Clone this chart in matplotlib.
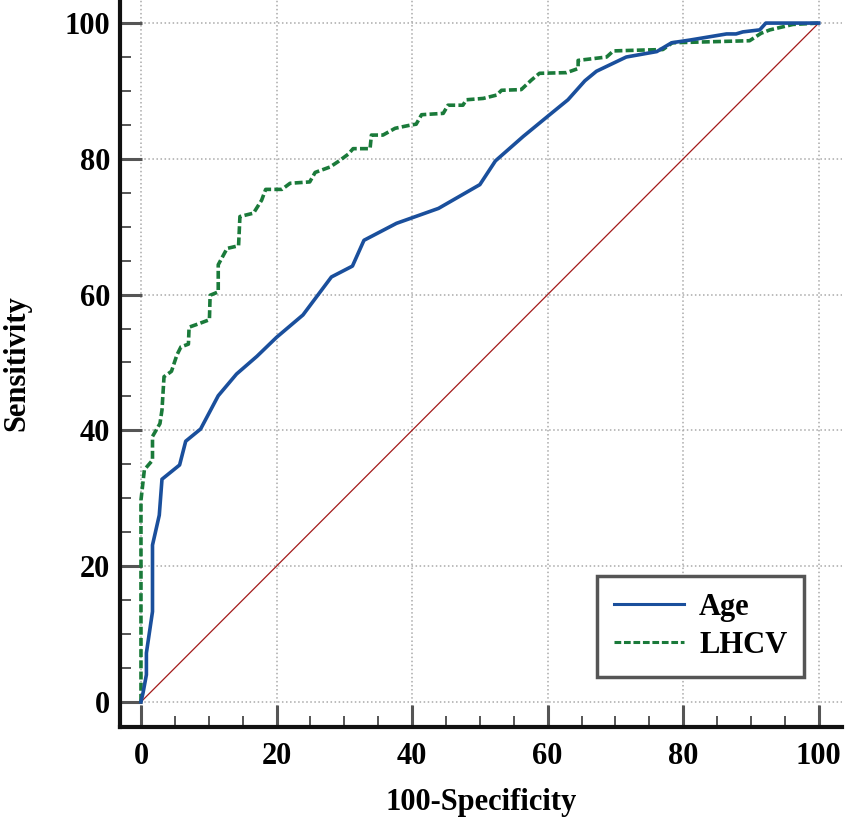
import matplotlib
matplotlib.use("Agg")
from matplotlib import pyplot as plt
import numpy as np

plt.rcParams['font.family'] = ['Liberation Serif', 'DejaVu Serif']
plt.rcParams['font.weight'] = 'bold'

# ROC curve points (100-Specificity, Sensitivity)
age_x = [0, 0.3, 0.8, 0.8, 1.7, 1.7, 2.7, 3.1, 5.7, 6.6, 8.8, 11.4, 14.1, 17.1, 20.0,
         23.9, 28.1, 31.2, 32.9, 37.7, 43.9, 50.0, 52.3, 56.4, 60.3, 63.0, 65.5, 67.2,
         71.6, 76.1, 78.3, 81.0, 86.4, 87.8, 88.8, 91.3, 92.2, 100]
age_y = [0, 1.3, 4.0, 7.2, 13.3, 23.1, 27.5, 32.8, 34.9, 38.4, 40.2, 45.1, 48.3, 50.9, 53.7,
         57.0, 62.6, 64.2, 68.0, 70.5, 72.7, 76.2, 79.7, 83.3, 86.5, 88.7, 91.5, 92.9,
         95.0, 95.8, 97.1, 97.5, 98.4, 98.4, 98.7, 99.0, 100, 100]

lhcv_x = [0, 0, 0.5, 1.7, 1.7, 2.8, 3.1, 3.4, 4.5, 5.3, 5.9, 7.0, 7.1, 8.5, 10.1, 10.2,
          11.4, 11.4, 12.7, 14.4, 14.6, 16.6, 17.8, 18.4, 20.8, 22.0, 24.9, 25.7, 27.9,
          29.1, 30.6, 31.3, 33.8, 34.0, 35.7, 37.5, 39.9, 40.6, 41.4, 44.6, 45.3, 47.5,
          48.0, 50.5, 52.5, 53.2, 56.1, 57.6, 58.8, 62.8, 64.5, 64.5, 68.7, 69.7, 73.1,
          77.0, 78.4, 89.8, 91.5, 92.8, 96.2, 100]
lhcv_y = [0, 29.7, 34.2, 35.6, 39.1, 41.0, 43.0, 47.9, 48.7, 51.1, 52.3, 52.7, 55.2, 55.7,
          56.3, 59.9, 60.4, 64.4, 66.8, 67.2, 71.5, 72.0, 73.9, 75.5, 75.5, 76.4, 76.6,
          78.0, 78.8, 79.6, 80.7, 81.5, 81.5, 83.5, 83.5, 84.5, 85.0, 85.1, 86.5, 86.7,
          87.9, 87.9, 88.7, 88.9, 89.4, 90.1, 90.2, 91.6, 92.6, 92.7, 93.3, 94.5, 95.0,
          95.9, 96.0, 96.1, 97.1, 97.4, 98.5, 99.0, 99.8, 100]

ref_line = [0, 100]
ticks = [0, 20, 40, 60, 80, 100]

fig = plt.figure(figsize=(8.46, 8.21), dpi=100)
ax = fig.add_axes([0.1418, 0.1145, 0.8532, 0.8855])

ax.plot(ref_line, ref_line, color='#a31a1a', lw=0.9, zorder=2)
ax.plot(age_x, age_y, color='#1a4f9c', lw=2.6, label='Age', zorder=4)
ax.plot(lhcv_x, lhcv_y, color='#1a7a3a', lw=2.6, linestyle=(0, (2.2, 0.9)),
        label='LHCV', zorder=3)

ax.set_xlim(-3.1, 103.4)
ax.set_ylim(-3.7, 103.4)
ax.set_xticks(ticks)
ax.set_yticks(ticks)
ax.set_xticks(np.arange(0, 101, 5), minor=True)
ax.set_yticks(np.arange(0, 101, 5), minor=True)

ax.grid(True, which='major', color='#aaaaaa', linestyle=':', lw=1.1, zorder=0)

for s in ['top', 'right']:
    ax.spines[s].set_visible(False)
for s in ['left', 'bottom']:
    ax.spines[s].set_linewidth(3)
    ax.spines[s].set_color('#111111')

ax.tick_params(which='major', direction='in', length=16, width=2.2, color='#555555',
               labelsize=22, pad=11)
ax.tick_params(which='minor', direction='in', length=8, width=1.4, color='#555555')
ax.tick_params(axis='y', which='major', pad=7)

ax.set_xlabel('100-Specificity', fontsize=22, fontweight='bold', labelpad=12)
ax.set_ylabel('Sensitivity', fontsize=22, fontweight='bold', labelpad=24)

leg = ax.legend(loc='lower right', bbox_to_anchor=(0.948, 0.069), fontsize=22,
                fancybox=False, framealpha=1, edgecolor='#555555',
                handlelength=2.3, handletextpad=0.5, borderpad=0.55,
                labelspacing=0.3, borderaxespad=0)
leg.get_frame().set_linewidth(2.5)
for h in leg.get_lines():
    h.set_linewidth(2.2)

fig.savefig('out.png', dpi=100)
